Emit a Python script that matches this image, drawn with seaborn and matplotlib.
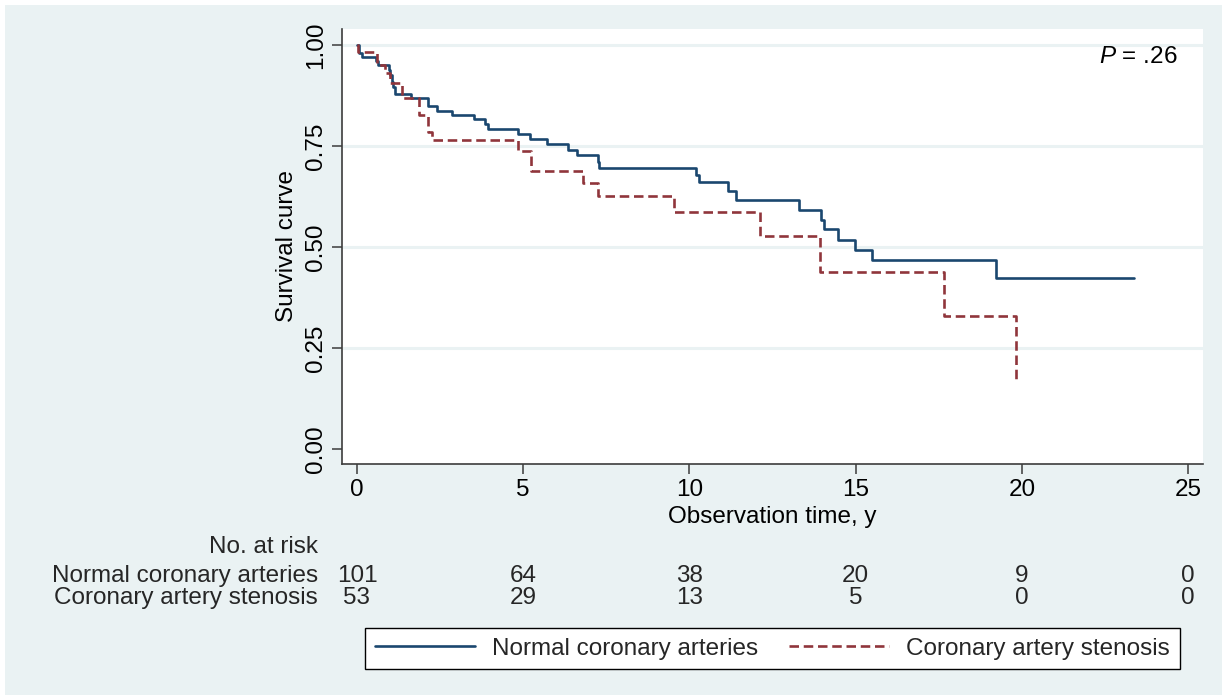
import numpy as np
import pandas as pd
import matplotlib
matplotlib.use('Agg')
import matplotlib.pyplot as plt
import matplotlib.transforms as mtransforms
from matplotlib.patches import Rectangle
import seaborn as sns

# Kaplan-Meier steps (time in years, survival)
normal_t = [0, 0.06, 0.14, 0.57, 0.62, 0.95, 0.99, 1.04, 1.09, 1.14, 1.64, 2.15, 2.40,
            2.85, 3.53, 3.85, 3.95, 4.85, 5.22, 5.71, 6.34, 6.61, 7.24, 7.27, 10.19,
            10.28, 11.15, 11.39, 13.30, 13.95, 14.06, 14.46, 14.99, 15.48, 19.22, 23.36]
normal_s = [1.0, 0.981, 0.971, 0.961, 0.950, 0.938, 0.926, 0.910, 0.897, 0.880, 0.868,
            0.849, 0.838, 0.827, 0.816, 0.806, 0.793, 0.781, 0.768, 0.756, 0.740, 0.727,
            0.710, 0.696, 0.678, 0.660, 0.639, 0.616, 0.592, 0.567, 0.544, 0.518, 0.493,
            0.467, 0.424, 0.424]

sten_t = [0, 0.04, 0.59, 0.85, 0.99, 1.34, 1.87, 2.15, 2.25, 4.85, 5.24, 6.81, 7.26,
          9.54, 12.12, 13.93, 17.66, 19.82]
sten_s = [1.0, 0.982, 0.950, 0.930, 0.907, 0.868, 0.826, 0.786, 0.765, 0.739, 0.688,
          0.659, 0.627, 0.586, 0.527, 0.439, 0.329, 0.164]

group_names = ['Normal coronary arteries', 'Coronary artery stenosis']
risk_times = [0, 5, 10, 15, 20, 25]
normal_risk = [101, 64, 38, 20, 9, 0]
sten_risk = [53, 29, 13, 5, 0, 0]
x_ticks = [0, 5, 10, 15, 20, 25]
y_ticks = [0.0, 0.25, 0.50, 0.75, 1.00]
p_text = '$P$ = .26'

W, H = 1227, 700
BLUE = '#1a476f'
RED = '#90353b'
BG = '#eaf2f3'
FS = 17.5

sns.set_theme(style='white')
plt.rcParams['font.family'] = ['Liberation Sans', 'DejaVu Sans']
plt.rcParams['mathtext.fontset'] = 'custom'
plt.rcParams['mathtext.it'] = 'Liberation Sans:italic'
plt.rcParams['mathtext.rm'] = 'Liberation Sans'

fig = plt.figure(figsize=(W / 100, H / 100), dpi=100, facecolor='white')
fig.patches.append(Rectangle((5 / W, 5 / H), 1 - 10 / W, 1 - 10 / H,
                             transform=fig.transFigure, facecolor=BG,
                             edgecolor='none', zorder=-10))

ax = fig.add_axes([342 / W, 1 - 464 / H, 861 / W, 435 / H])
ax.set_facecolor('white')

for y in y_ticks[1:]:
    ax.axhline(y, color=BG, lw=2.2, zorder=0)

df_n = pd.DataFrame({'time': normal_t, 'surv': normal_s})
df_s = pd.DataFrame({'time': sten_t, 'surv': sten_s})
sns.lineplot(data=df_n, x='time', y='surv', ax=ax, estimator=None, sort=False,
             drawstyle='steps-post', color=BLUE, lw=1.9, label=group_names[0])
sns.lineplot(data=df_s, x='time', y='surv', ax=ax, estimator=None, sort=False,
             drawstyle='steps-post', color=RED, lw=1.9, linestyle=(0, (3.6, 1.8)),
             label=group_names[1])

ax.set_xlim(-0.45, 25.45)
ax.set_ylim(-0.037, 1.04)
ax.set_xticks(x_ticks)
ax.set_xticklabels([str(t) for t in x_ticks])
ax.set_yticks(y_ticks)
ax.set_yticklabels(['%.2f' % v for v in y_ticks], rotation=90, va='center')

for side in ['top', 'right']:
    ax.spines[side].set_visible(False)
for side in ['left', 'bottom']:
    ax.spines[side].set_color('#3c3c3c')
    ax.spines[side].set_linewidth(1.2)

ax.tick_params(axis='both', which='major', bottom=True, left=True, direction='out',
               length=7, width=1.1, color='#3c3c3c', labelsize=FS, labelcolor='black')
ax.tick_params(axis='x', pad=4)
ax.tick_params(axis='y', pad=4)

ax.set_xlabel('Observation time, y', fontsize=FS, color='black', labelpad=3.5)
ax.set_ylabel('Survival curve', fontsize=FS, color='black', labelpad=5)

ax.text(0.970, 0.9356, p_text, transform=ax.transAxes, ha='right', va='center',
        fontsize=FS, color='black')

# number at risk table
trans = mtransforms.blended_transform_factory(ax.transData, fig.transFigure)
fig.text(318 / W, 1 - 547 / H, 'No. at risk', ha='right', va='center', fontsize=FS)
rows = [(group_names[0], normal_risk, 576), (group_names[1], sten_risk, 598)]
for name, counts, ypx in rows:
    fig.text(318 / W, 1 - ypx / H, name, ha='right', va='center', fontsize=FS)
    for t, n in zip(risk_times, counts):
        ax.text(t, 1 - ypx / H, str(n), transform=trans, ha='center', va='center',
                fontsize=FS)

handles, labels = ax.get_legend_handles_labels()
ax.get_legend().remove()
leg = fig.legend(handles, labels, loc='center', bbox_to_anchor=(772.5 / W, 1 - 648.5 / H),
                 ncol=2, frameon=True, fancybox=False, edgecolor='black', facecolor='white',
                 framealpha=1, handlelength=4.1, handletextpad=0.7, columnspacing=1.3,
                 borderpad=0.4, fontsize=FS)
leg.get_frame().set_linewidth(1.0)

fig.savefig('out.png', dpi=100, facecolor=fig.get_facecolor())
